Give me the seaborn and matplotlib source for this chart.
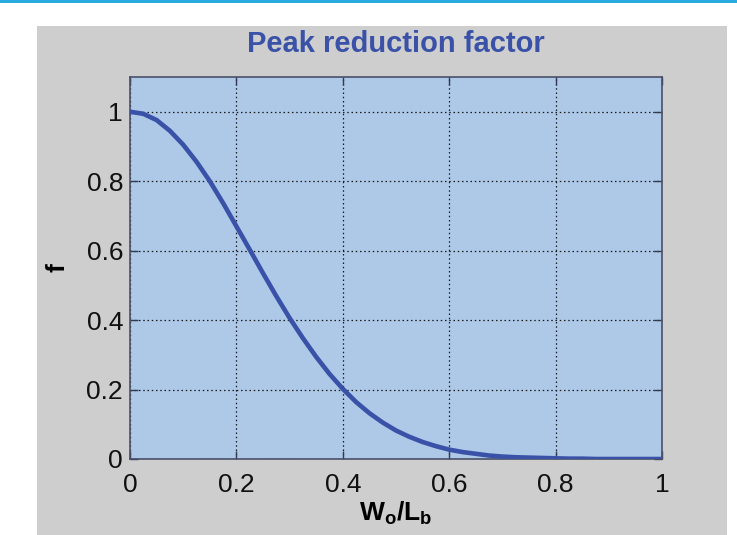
import matplotlib
matplotlib.use("Agg")
import matplotlib.pyplot as plt
from matplotlib.patches import Rectangle
import seaborn as sns
import pandas as pd

# Data
x_vals = [0.000, 0.025, 0.050, 0.075, 0.100, 0.125, 0.150, 0.175, 0.200, 0.225,
          0.250, 0.275, 0.300, 0.325, 0.350, 0.375, 0.400, 0.425, 0.450, 0.475,
          0.500, 0.525, 0.550, 0.575, 0.600, 0.625, 0.650, 0.675, 0.700, 0.725,
          0.750, 0.775, 0.800, 0.825, 0.850, 0.875, 0.900, 0.925, 0.950, 0.975,
          1.000]
f_vals = [1.000, 0.994, 0.976, 0.945, 0.905, 0.856, 0.800, 0.737, 0.670, 0.603,
          0.535, 0.469, 0.406, 0.348, 0.294, 0.245, 0.202, 0.164, 0.132, 0.105,
          0.082, 0.064, 0.049, 0.037, 0.027, 0.020, 0.015, 0.010, 0.007, 0.005,
          0.004, 0.003, 0.002, 0.001, 0.001, 0.000, 0.000, 0.000, 0.000, 0.000,
          0.000]
x_ticks = [0, 0.2, 0.4, 0.6, 0.8, 1.0]
x_tick_labels = ["0", "0.2", "0.4", "0.6", "0.8", "1"]
y_ticks = [0, 0.2, 0.4, 0.6, 0.8, 1.0]
y_tick_labels = ["0", "0.2", "0.4", "0.6", "0.8", "1"]
title_text = "Peak reduction factor"

plt.rcParams['font.family'] = ['Liberation Sans', 'DejaVu Sans']
plt.rcParams['mathtext.fontset'] = 'custom'
plt.rcParams['mathtext.rm'] = 'Liberation Sans'
plt.rcParams['mathtext.bf'] = 'Liberation Sans:bold'

W, H = 737, 535
fig = plt.figure(figsize=(W / 100, H / 100), dpi=100, facecolor='white')

# gray panel and top blue stripe
fig.patches.append(Rectangle((37 / W, 0), (727 - 37) / W, 1 - 26 / H,
                             transform=fig.transFigure, facecolor='#cecece',
                             edgecolor='none', zorder=-10))
fig.patches.append(Rectangle((0, 1 - 3 / H), 1, 3 / H,
                             transform=fig.transFigure, facecolor='#29abe2',
                             edgecolor='none', zorder=-10))

ax = fig.add_axes([130 / W, 1 - 459 / H, (662 - 130) / W, (459 - 77) / H])
ax.set_zorder(5)
ax.set_facecolor('#aec8e7')

df = pd.DataFrame({'x': x_vals, 'f': f_vals})
sns.lineplot(data=df, x='x', y='f', ax=ax, color='#3a51a8', linewidth=3.3,
             zorder=3)

ax.set_xlim(0, 1)
ax.set_ylim(0, 1.1)
ax.set_xticks(x_ticks)
ax.set_xticklabels(x_tick_labels)
ax.set_yticks(y_ticks)
ax.set_yticklabels(y_tick_labels)
ax.tick_params(axis='both', which='both', direction='in', length=6,
               width=1, color='#333a50', labelsize=19, labelcolor='#111111',
               top=True, right=True)
ax.tick_params(axis='y', pad=5)
ax.tick_params(axis='x', pad=10)
ax.grid(True, color='#1a1a1a', linestyle=(0, (1.2, 2.2)), linewidth=0.9,
        zorder=1)
ax.set_axisbelow(True)
for s in ax.spines.values():
    s.set_color('#4a5068')
    s.set_linewidth(1.2)

ax.set_title(title_text, fontsize=21, fontweight='bold', color='#3a51a8',
             pad=18)
ax.set_ylabel('f', fontsize=19, fontweight='bold', labelpad=12)
ax.set_xlabel(r'$\mathbf{W_o/L_b}$', fontsize=19, labelpad=2)

fig.savefig('out.png', dpi=100, facecolor='white')
